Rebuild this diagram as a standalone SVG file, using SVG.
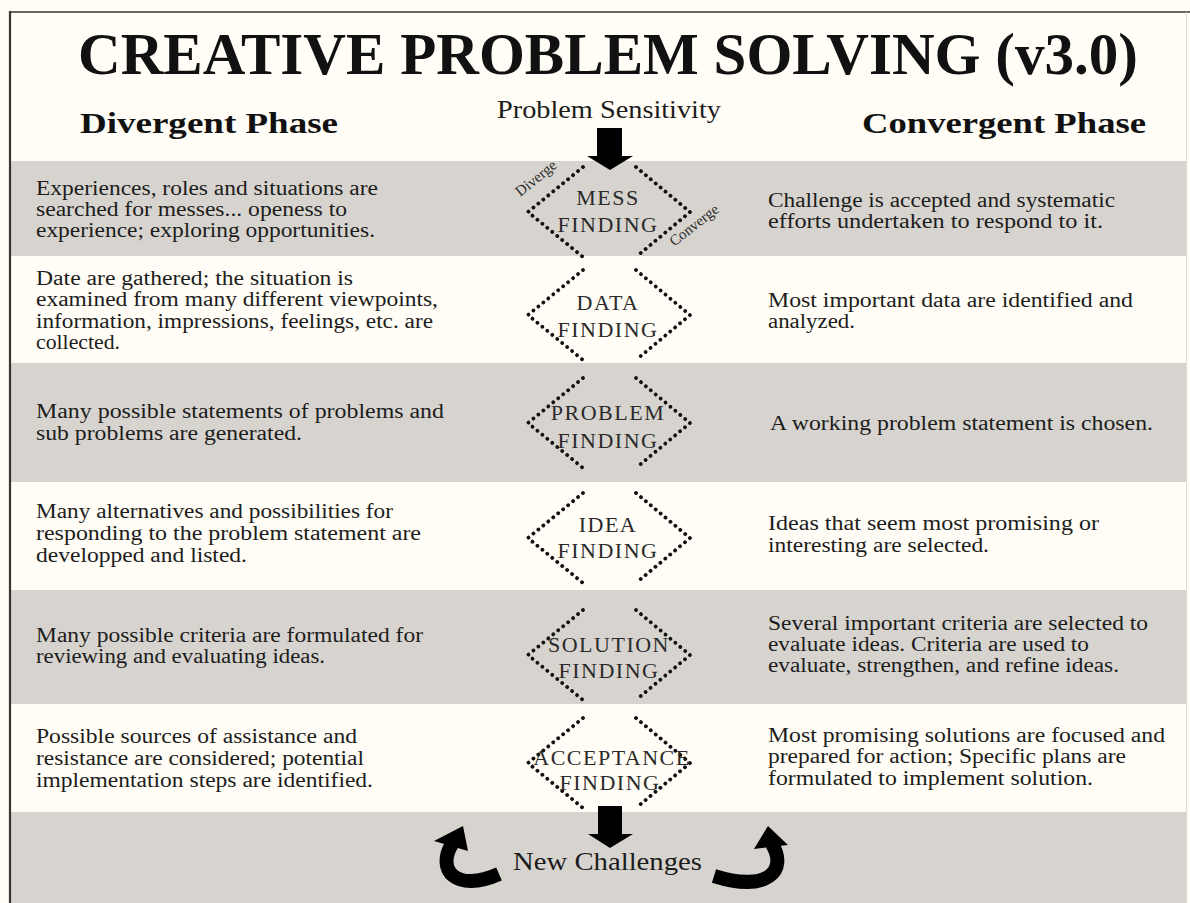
<svg xmlns="http://www.w3.org/2000/svg" width="1190" height="903" viewBox="0 0 1190 903">
<defs>
<style>
.bg{fill:#fffdf5}
.band{fill:#d7d4cf}
.frame{stroke:#3a3330;fill:none}
.dots{fill:none;stroke:#111;stroke-width:3.8;stroke-linecap:round;stroke-dasharray:0.1 6.3}
.lbl{font-family:"Liberation Serif","Times New Roman",serif;font-size:22px;fill:#2a2a2a;text-anchor:middle;letter-spacing:1.5px}
.body{font-family:"Liberation Serif","Times New Roman",serif;font-size:20px;fill:#1c1c1c}
.hdr{font-family:"Liberation Serif","Times New Roman",serif;font-weight:bold;fill:#111}
.rot{font-family:"Liberation Serif","Times New Roman",serif;font-size:15px;fill:#2a2a2a;text-anchor:middle}
.arr{fill:#000}
.curve{fill:none;stroke:#000;stroke-width:14}
</style>
</defs>
<rect class="bg" x="0" y="0" width="1190" height="903"/>
<g id="bands">
<rect class="band" x="10" y="161" width="1176" height="95"/>
<rect class="band" x="10" y="363" width="1176" height="119"/>
<rect class="band" x="10" y="590" width="1176" height="114"/>
<rect class="band" x="10" y="812" width="1176" height="91"/>
</g>
<g id="frame">
<line class="frame" x1="10" y1="12" x2="1190" y2="12" stroke-width="1.6"/>
<line class="frame" x1="10" y1="11" x2="10" y2="903" stroke-width="2.2"/>
<line x1="1186.5" y1="12" x2="1186.5" y2="903" stroke="#ead8d0" stroke-width="1"/>
</g>
<g id="headings">
<text class="hdr" x="78" y="74" font-size="60" textLength="1060" lengthAdjust="spacingAndGlyphs">CREATIVE PROBLEM SOLVING (v3.0)</text>
<text class="hdr" x="80" y="133" font-size="30" textLength="258" lengthAdjust="spacingAndGlyphs">Divergent Phase</text>
<text class="hdr" x="862" y="133" font-size="30" textLength="284" lengthAdjust="spacingAndGlyphs">Convergent Phase</text>
<text id="problem-sensitivity" x="497" y="118" font-family="Liberation Serif, Times New Roman, serif" font-size="25" fill="#1c1c1c" textLength="224" lengthAdjust="spacingAndGlyphs">Problem Sensitivity</text>
</g>
<g id="connectors">
<g id="arrow-top"><rect class="arr" x="597" y="128" width="25" height="30"/><polygon class="arr" points="587,156 633,156 610,170"/></g>
<g id="arrow-bottom"><rect class="arr" x="598" y="806" width="24" height="30"/><polygon class="arr" points="588,834 633,834 610,848"/></g>
<g id="loop-left"><path class="curve" d="M 452 844 C 436 870 456 893 499 874"/><polygon class="arr" points="463,826 434,841 468,851"/></g>
<g id="loop-right"><path class="curve" d="M 772 844 C 788 870 768 893 714 876"/><polygon class="arr" points="768,826 788,845 754,849"/></g>
</g>
<g id="mess-finding">
<path class="dots" d="M583 167 L528 212 L583 257 M636 167 L690 212 L636 257"/>
<text class="lbl" x="608" y="205">MESS</text>
<text class="lbl" x="608" y="232">FINDING</text>
<text class="rot" transform="translate(539 182) rotate(-39)">Diverge</text>
<text class="rot" transform="translate(697 229) rotate(-38)">Converge</text>
</g>
<g id="data-finding">
<path class="dots" d="M583 270 L528 315 L583 360 M636 270 L690 315 L636 360"/>
<text class="lbl" x="608" y="310">DATA</text>
<text class="lbl" x="608" y="337">FINDING</text>
</g>
<g id="problem-finding">
<path class="dots" d="M583 378 L528 423 L583 468 M636 378 L690 423 L636 468"/>
<text class="lbl" x="608" y="420">PROBLEM</text>
<text class="lbl" x="608" y="448">FINDING</text>
</g>
<g id="idea-finding">
<path class="dots" d="M583 493 L528 538 L583 583 M636 493 L690 538 L636 583"/>
<text class="lbl" x="608" y="532">IDEA</text>
<text class="lbl" x="608" y="558">FINDING</text>
</g>
<g id="solution-finding">
<path class="dots" d="M583 610 L528 655 L583 700 M636 610 L690 655 L636 700"/>
<text class="lbl" x="609" y="652">SOLUTION</text>
<text class="lbl" x="609" y="678">FINDING</text>
</g>
<g id="acceptance-finding">
<path class="dots" d="M583 718 L528 763 L583 808 M636 718 L690 763 L636 808"/>
<text class="lbl" x="612" y="765" letter-spacing="0.5">ACCEPTANCE</text>
<text class="lbl" x="610" y="790">FINDING</text>
</g>
<g id="new-challenges">
<text x="513" y="870" font-family="Liberation Serif, Times New Roman, serif" font-size="26" fill="#1c1c1c" textLength="189" lengthAdjust="spacingAndGlyphs">New Challenges</text>
</g>
<g id="divergent-text" class="body">
<text x="36" y="195" textLength="342" lengthAdjust="spacingAndGlyphs">Experiences, roles and situations are</text>
<text x="36" y="216" textLength="311" lengthAdjust="spacingAndGlyphs">searched for messes... openess to</text>
<text x="36" y="237" textLength="339" lengthAdjust="spacingAndGlyphs">experience; exploring opportunities.</text>
<text x="36" y="285" textLength="317" lengthAdjust="spacingAndGlyphs">Date are gathered; the situation is</text>
<text x="36" y="306" textLength="402" lengthAdjust="spacingAndGlyphs">examined from many different viewpoints,</text>
<text x="36" y="328" textLength="397" lengthAdjust="spacingAndGlyphs">information, impressions, feelings, etc. are</text>
<text x="36" y="349" textLength="84" lengthAdjust="spacingAndGlyphs">collected.</text>
<text x="36" y="418" textLength="408" lengthAdjust="spacingAndGlyphs">Many possible statements of problems and</text>
<text x="36" y="440" textLength="266" lengthAdjust="spacingAndGlyphs">sub problems are generated.</text>
<text x="36" y="518" textLength="357" lengthAdjust="spacingAndGlyphs">Many alternatives and possibilities for</text>
<text x="36" y="540" textLength="385" lengthAdjust="spacingAndGlyphs">responding to the problem statement are</text>
<text x="36" y="562" textLength="211" lengthAdjust="spacingAndGlyphs">developped and listed.</text>
<text x="36" y="642" textLength="387" lengthAdjust="spacingAndGlyphs">Many possible criteria are formulated for</text>
<text x="36" y="663" textLength="289" lengthAdjust="spacingAndGlyphs">reviewing and evaluating ideas.</text>
<text x="36" y="743" textLength="321" lengthAdjust="spacingAndGlyphs">Possible sources of assistance and</text>
<text x="36" y="765" textLength="328" lengthAdjust="spacingAndGlyphs">resistance are considered; potential</text>
<text x="36" y="787" textLength="337" lengthAdjust="spacingAndGlyphs">implementation steps are identified.</text>
</g>
<g id="convergent-text" class="body">
<text x="768" y="207" textLength="347" lengthAdjust="spacingAndGlyphs">Challenge is accepted and systematic</text>
<text x="768" y="228" textLength="335" lengthAdjust="spacingAndGlyphs">efforts undertaken to respond to it.</text>
<text x="768" y="307" textLength="365" lengthAdjust="spacingAndGlyphs">Most important data are identified and</text>
<text x="768" y="328" textLength="87" lengthAdjust="spacingAndGlyphs">analyzed.</text>
<text x="770" y="430" textLength="383" lengthAdjust="spacingAndGlyphs">A working problem statement is chosen.</text>
<text x="768" y="530" textLength="331" lengthAdjust="spacingAndGlyphs">Ideas that seem most promising or</text>
<text x="768" y="552" textLength="221" lengthAdjust="spacingAndGlyphs">interesting are selected.</text>
<text x="768" y="630" textLength="380" lengthAdjust="spacingAndGlyphs">Several important criteria are selected to</text>
<text x="768" y="651" textLength="321" lengthAdjust="spacingAndGlyphs">evaluate ideas. Criteria are used to</text>
<text x="768" y="672" textLength="351" lengthAdjust="spacingAndGlyphs">evaluate, strengthen, and refine ideas.</text>
<text x="768" y="742" textLength="397" lengthAdjust="spacingAndGlyphs">Most promising solutions are focused and</text>
<text x="768" y="763" textLength="358" lengthAdjust="spacingAndGlyphs">prepared for action; Specific plans are</text>
<text x="768" y="785" textLength="325" lengthAdjust="spacingAndGlyphs">formulated to implement solution.</text>
</g>
</svg>
